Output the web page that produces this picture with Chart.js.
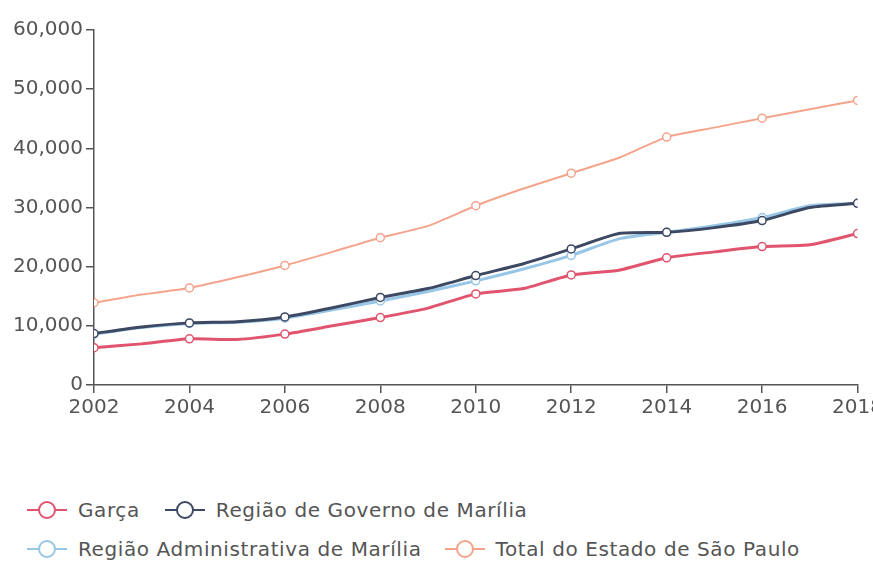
<!DOCTYPE html>
<html>
<head>
<meta charset="utf-8">
<script src="https://cdn.jsdelivr.net/npm/chart.js@4/dist/chart.umd.min.js"></script>
<style>
  html, body { margin: 0; padding: 0; background: #fff; overflow: hidden; width: 873px; height: 565px; }
  #wrap { position: absolute; left: 0; top: 0; width: 886px; height: 432px; }
  #legend { position: absolute; left: 26px; top: 490px; font-family: "DejaVu Sans", sans-serif; font-size: 20px; letter-spacing: 0.6px; color: #555; }
  #legend .row { display: flex; align-items: center; height: 39px; }
  #legend .item { display: flex; align-items: center; margin-right: 24px; }
  #legend .row + .row .item { margin-right: 22px; }
  #legend svg { margin-right: 10px; }
</style>
</head>
<body>
<div id="wrap"><canvas id="grafico"></canvas></div>
<div id="legend"></div>
<script>
const anos = [2002, 2003, 2004, 2005, 2006, 2007, 2008, 2009, 2010, 2011, 2012, 2013, 2014, 2015, 2016, 2017, 2018];
const garca = [6300, 6950, 7800, 7700, 8600, 10000, 11400, 13000, 15400, 16300, 18600, 19400, 21500, 22500, 23400, 23700, 25600];
const governoMarilia = [8700, 9800, 10500, 10700, 11500, 13050, 14800, 16300, 18500, 20500, 23000, 25600, 25800, 26600, 27800, 30000, 30700];
const adminMarilia = [8600, 9700, 10400, 10600, 11300, 12700, 14200, 15800, 17600, 19600, 21900, 24700, 25800, 26900, 28300, 30300, 30700];
const totalSP = [13900, 15300, 16400, 18200, 20200, 22500, 24900, 26900, 30300, 33200, 35800, 38400, 41900, 43500, 45100, 46600, 48100];
const yTicks = [0, 10000, 20000, 30000, 40000, 50000, 60000];

const series = [
  { label: 'Garça', values: garca, color: '#e0546e', width: 3 },
  { label: 'Região de Governo de Marília', values: governoMarilia, color: '#3d4862', width: 3 },
  { label: 'Região Administrativa de Marília', values: adminMarilia, color: '#97c6e6', width: 3 },
  { label: 'Total do Estado de São Paulo', values: totalSP, color: '#f5a48c', width: 2 }
];

const axisColor = '#555';
const tickFont = { family: 'DejaVu Sans', size: 20 };

const chart = new Chart(document.getElementById('grafico'), {
  type: 'line',
  data: {
    datasets: series.map(s => ({
      label: s.label,
      data: anos.map((a, i) => ({ x: a, y: s.values[i] })),
      borderColor: s.color,
      backgroundColor: '#fff',
      borderWidth: s.width,
      tension: 0.2,
      pointRadius: anos.map(a => (a % 2 === 0 ? 4 : 0)),
      pointBorderWidth: 1.5,
      pointBackgroundColor: '#fff',
      pointBorderColor: s.color
    }))
  },
  options: {
    responsive: true,
    maintainAspectRatio: false,
    animation: false,
    layout: { padding: { top: 30, left: 10, right: 0, bottom: 9 } },
    plugins: { legend: { display: false }, tooltip: { enabled: false } },
    scales: {
      x: {
        type: 'linear',
        min: 2002,
        max: 2018,
        ticks: { stepSize: 2, color: '#555', font: tickFont, padding: 3, callback: v => String(v) },
        grid: { drawOnChartArea: false, drawTicks: true, tickLength: 8, color: axisColor, lineWidth: 1.5 },
        border: { display: true, color: axisColor, width: 1.5 }
      },
      y: {
        min: 0,
        max: 60000,
        afterBuildTicks: axis => { axis.ticks = yTicks.map(v => ({ value: v })); },
        ticks: { color: '#555', font: tickFont, padding: 3, callback: v => v.toLocaleString('en-US') },
        grid: { drawOnChartArea: false, drawTicks: true, tickLength: 8, color: axisColor, lineWidth: 1.5 },
        border: { display: true, color: axisColor, width: 1.5 }
      }
    }
  }
});

// legenda em HTML, duas linhas como no original
const legend = document.getElementById('legend');
const linhas = [[0, 1], [2, 3]];
linhas.forEach(idx => {
  const row = document.createElement('div');
  row.className = 'row';
  idx.forEach(i => {
    const ds = chart.data.datasets[i];
    const item = document.createElement('div');
    item.className = 'item';
    item.innerHTML =
      '<svg width="42" height="22"><line x1="1" y1="11" x2="41" y2="11" stroke="' + ds.borderColor +
      '" stroke-width="2"/><circle cx="21" cy="11" r="8" fill="#fff" stroke="' + ds.borderColor +
      '" stroke-width="2"/></svg><span>' + ds.label + '</span>';
    row.appendChild(item);
  });
  legend.appendChild(row);
});
</script>
</body>
</html>
